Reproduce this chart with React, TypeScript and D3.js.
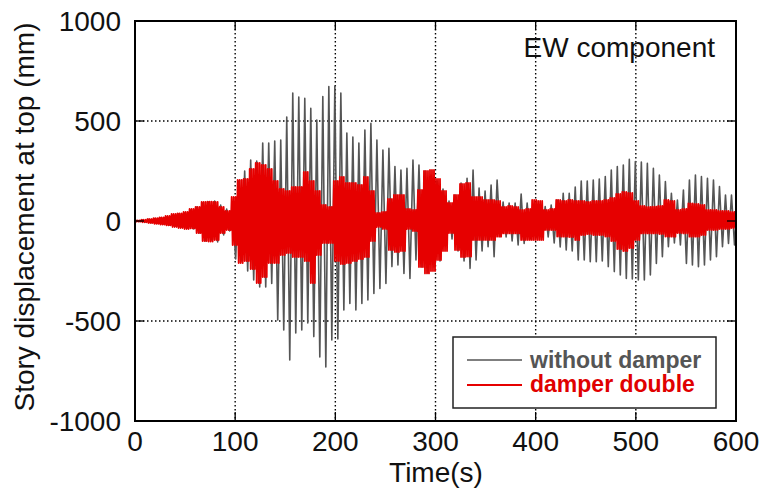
import React from "react";
import * as d3 from "d3";

// Black series: "without damper" — positive / negative peak per 6 s cycle (mm)
const blackPos = [
  2, 5, 8, 12, 15, 20, 28, 35, 40, 55, 70, 90, 95, 100, 80, 60, 55,
  200, 250, 305, 300, 390, 390, 400, 405, 520, 640, 620, 613, 563, 505, 622, 672, 675, 640,
  440, 420, 390, 455, 488, 405, 355, 363, 272, 255, 263, 305, 280, 250, 230, 200, 160,
  100, 130, 190, 213, 255, 165, 150, 180, 205, 95, 90, 90, 135, 90, 70, 72, 72, 80,
  105, 138, 138, 170, 200, 200, 205, 210, 222, 255, 272, 280, 308, 297, 295, 288, 263,
  230, 197, 138, 105, 155, 205, 230, 222, 213, 205, 172, 130, 130,
];
const blackNeg = [
  -2, -5, -8, -12, -15, -20, -25, -30, -35, -40, -60, -100, -95, -105, -70, -50, -190,
  -200, -250, -295, -330, -330, -312, -495, -545, -695, -560, -545, -510, -578, -680, -730,
  -595, -590, -445, -412, -445, -412, -395, -362, -337, -312, -228, -220, -262, -287, -195,
  -230, -260, -230, -200, -100, -90, -150, -200, -237, -195, -150, -128, -178, -78, -80,
  -100, -120, -112, -90, -80, -80, -80, -110, -130, -145, -150, -195, -195, -203, -203,
  -200, -228, -253, -270, -287, -290, -295, -295, -270, -212, -178, -128, -110, -120,
  -212, -220, -228, -220, -195, -178, -128, -112, -120,
];

// Red series: "damper double" — envelope per 6 s block (three 2 s cycles each), mm
const redPos = [
  3, 6, 10, 14, 18, 25, 35, 38, 45, 60, 70, 95, 97, 95, 70, 50, 120,
  205, 210, 260, 290, 280, 260, 200, 160, 150, 170, 170, 245, 200, 150, 80, 70, 200, 220,
  190, 190, 180, 220, 150, 40, 45, 110, 130, 130, 60, 55, 155, 250, 255, 210, 150,
  90, 130, 185, 190, 120, 120, 105, 105, 100, 70, 75, 70, 55, 60, 105, 100, 55, 60,
  105, 100, 105, 100, 100, 95, 100, 100, 105, 115, 135, 145, 140, 100, 75, 70, 72,
  75, 105, 100, 55, 60, 88, 85, 80, 55, 55, 50, 50, 45,
];
const redNeg = [
  -3, -6, -10, -14, -18, -22, -30, -35, -40, -37, -60, -100, -103, -95, -60, -45, -120,
  -210, -200, -240, -310, -280, -210, -210, -170, -160, -180, -180, -200, -310, -170, -110,
  -110, -200, -215, -210, -200, -190, -180, -100, -30, -40, -145, -155, -150, -40, -50,
  -230, -262, -250, -195, -150, -60, -145, -180, -178, -95, -95, -95, -95, -78, -62, -62,
  -62, -95, -95, -95, -95, -45, -45, -78, -78, -80, -95, -70, -65, -70, -70, -78, -100,
  -140, -150, -135, -95, -62, -62, -62, -65, -78, -78, -60, -62, -78, -78, -70, -45, -45,
  -40, -40, -35,
];

const xTicks = [0, 100, 200, 300, 400, 500, 600];
const yTicks = [-1000, -500, 0, 500, 1000];
const gridX = [100, 200, 300, 400, 500];
const gridY = [-500, 0, 500];

const W = 761;
const H = 494;
const M = { left: 135, right: 736, top: 21, bottom: 421 };

export default function App() {
  const x = d3.scaleLinear().domain([0, 600]).range([M.left, M.right]);
  const y = d3.scaleLinear().domain([-1000, 1000]).range([M.bottom, M.top]);

  const blackPts: [number, number][] = [[0, 0]];
  blackPos.forEach((p, k) => {
    blackPts.push([6 * k + 1.5, p]);
    blackPts.push([6 * k + 4.5, blackNeg[k]]);
  });
  blackPts.push([600, 0]);

  const redPts: [number, number][] = [[0, 0]];
  redPos.forEach((p, k) => {
    for (let c = 0; c < 3; c++) {
      redPts.push([6 * k + 2 * c + 0.5, p]);
      redPts.push([6 * k + 2 * c + 1.5, redNeg[k]]);
    }
  });
  redPts.push([600, 0]);

  const line = d3
    .line<[number, number]>()
    .x((d) => x(d[0]))
    .y((d) => y(d[1]));

  const font = "'Liberation Sans', Arial, Helvetica, sans-serif";
  const tickLen = 9;

  return (
    <svg
      width={W}
      height={H}
      style={{ position: "absolute", left: 0, top: 0, background: "#fff" }}
      fontFamily={font}
    >
      <rect x={0} y={0} width={W} height={H} fill="#fff" />
      <defs>
        <clipPath id="plot">
          <rect x={M.left} y={M.top} width={M.right - M.left} height={M.bottom - M.top} />
        </clipPath>
      </defs>

      {/* grid */}
      {gridX.map((v) => (
        <line key={"gx" + v} x1={x(v)} x2={x(v)} y1={M.top} y2={M.bottom}
          stroke="#000" strokeWidth={1.4} strokeDasharray="1.5,2.5" />
      ))}
      {gridY.map((v) => (
        <line key={"gy" + v} x1={M.left} x2={M.right} y1={y(v)} y2={y(v)}
          stroke="#000" strokeWidth={1.4} strokeDasharray="1.5,2.5" />
      ))}

      {/* series */}
      <g clipPath="url(#plot)">
        <path d={line(blackPts) || ""} fill="none" stroke="#555" strokeWidth={1.6} strokeLinejoin="round" />
        <path d={line(redPts) || ""} fill="none" stroke="#e60000" strokeWidth={1.8} strokeLinejoin="round" />
      </g>

      {/* ticks */}
      {xTicks.map((v) => (
        <g key={"tx" + v}>
          <line x1={x(v)} x2={x(v)} y1={M.bottom} y2={M.bottom - tickLen} stroke="#000" strokeWidth={1.3} />
          <line x1={x(v)} x2={x(v)} y1={M.top} y2={M.top + tickLen} stroke="#000" strokeWidth={1.3} />
          <text x={x(v)} y={451} fontSize={28} textAnchor="middle" fill="#111">{v}</text>
        </g>
      ))}
      {yTicks.map((v) => (
        <g key={"ty" + v}>
          <line x1={M.left} x2={M.left + tickLen} y1={y(v)} y2={y(v)} stroke="#000" strokeWidth={1.3} />
          <line x1={M.right} x2={M.right - tickLen} y1={y(v)} y2={y(v)} stroke="#000" strokeWidth={1.3} />
          <text x={121} y={y(v) + 10} fontSize={28} textAnchor="end" fill="#111">{v}</text>
        </g>
      ))}

      {/* frame */}
      <rect x={M.left} y={M.top} width={M.right - M.left} height={M.bottom - M.top}
        fill="none" stroke="#000" strokeWidth={2} />

      {/* annotation */}
      <text x={715} y={57} fontSize={28} textAnchor="end" fill="#111">EW component</text>

      {/* legend */}
      <rect x={453} y={337} width={263} height={71} fill="#fff" stroke="#222" strokeWidth={1.5} />
      <line x1={467} x2={522} y1={360} y2={360} stroke="#555" strokeWidth={1.4} />
      <line x1={467} x2={522} y1={385} y2={385} stroke="#e60000" strokeWidth={2.2} />
      <text x={530} y={368} fontSize={23} fontWeight="bold" fill="#555">without damper</text>
      <text x={530} y={392} fontSize={23} fontWeight="bold" fill="#e00000">damper double</text>

      {/* axis titles */}
      <text x={436} y={482} fontSize={28} textAnchor="middle" fill="#111">Time(s)</text>
      <text transform={`translate(34,${(M.top + M.bottom) / 2 - 4}) rotate(-90)`} fontSize={28}
        textAnchor="middle" fill="#111">Story displacement at top (mm)</text>
    </svg>
  );
}
